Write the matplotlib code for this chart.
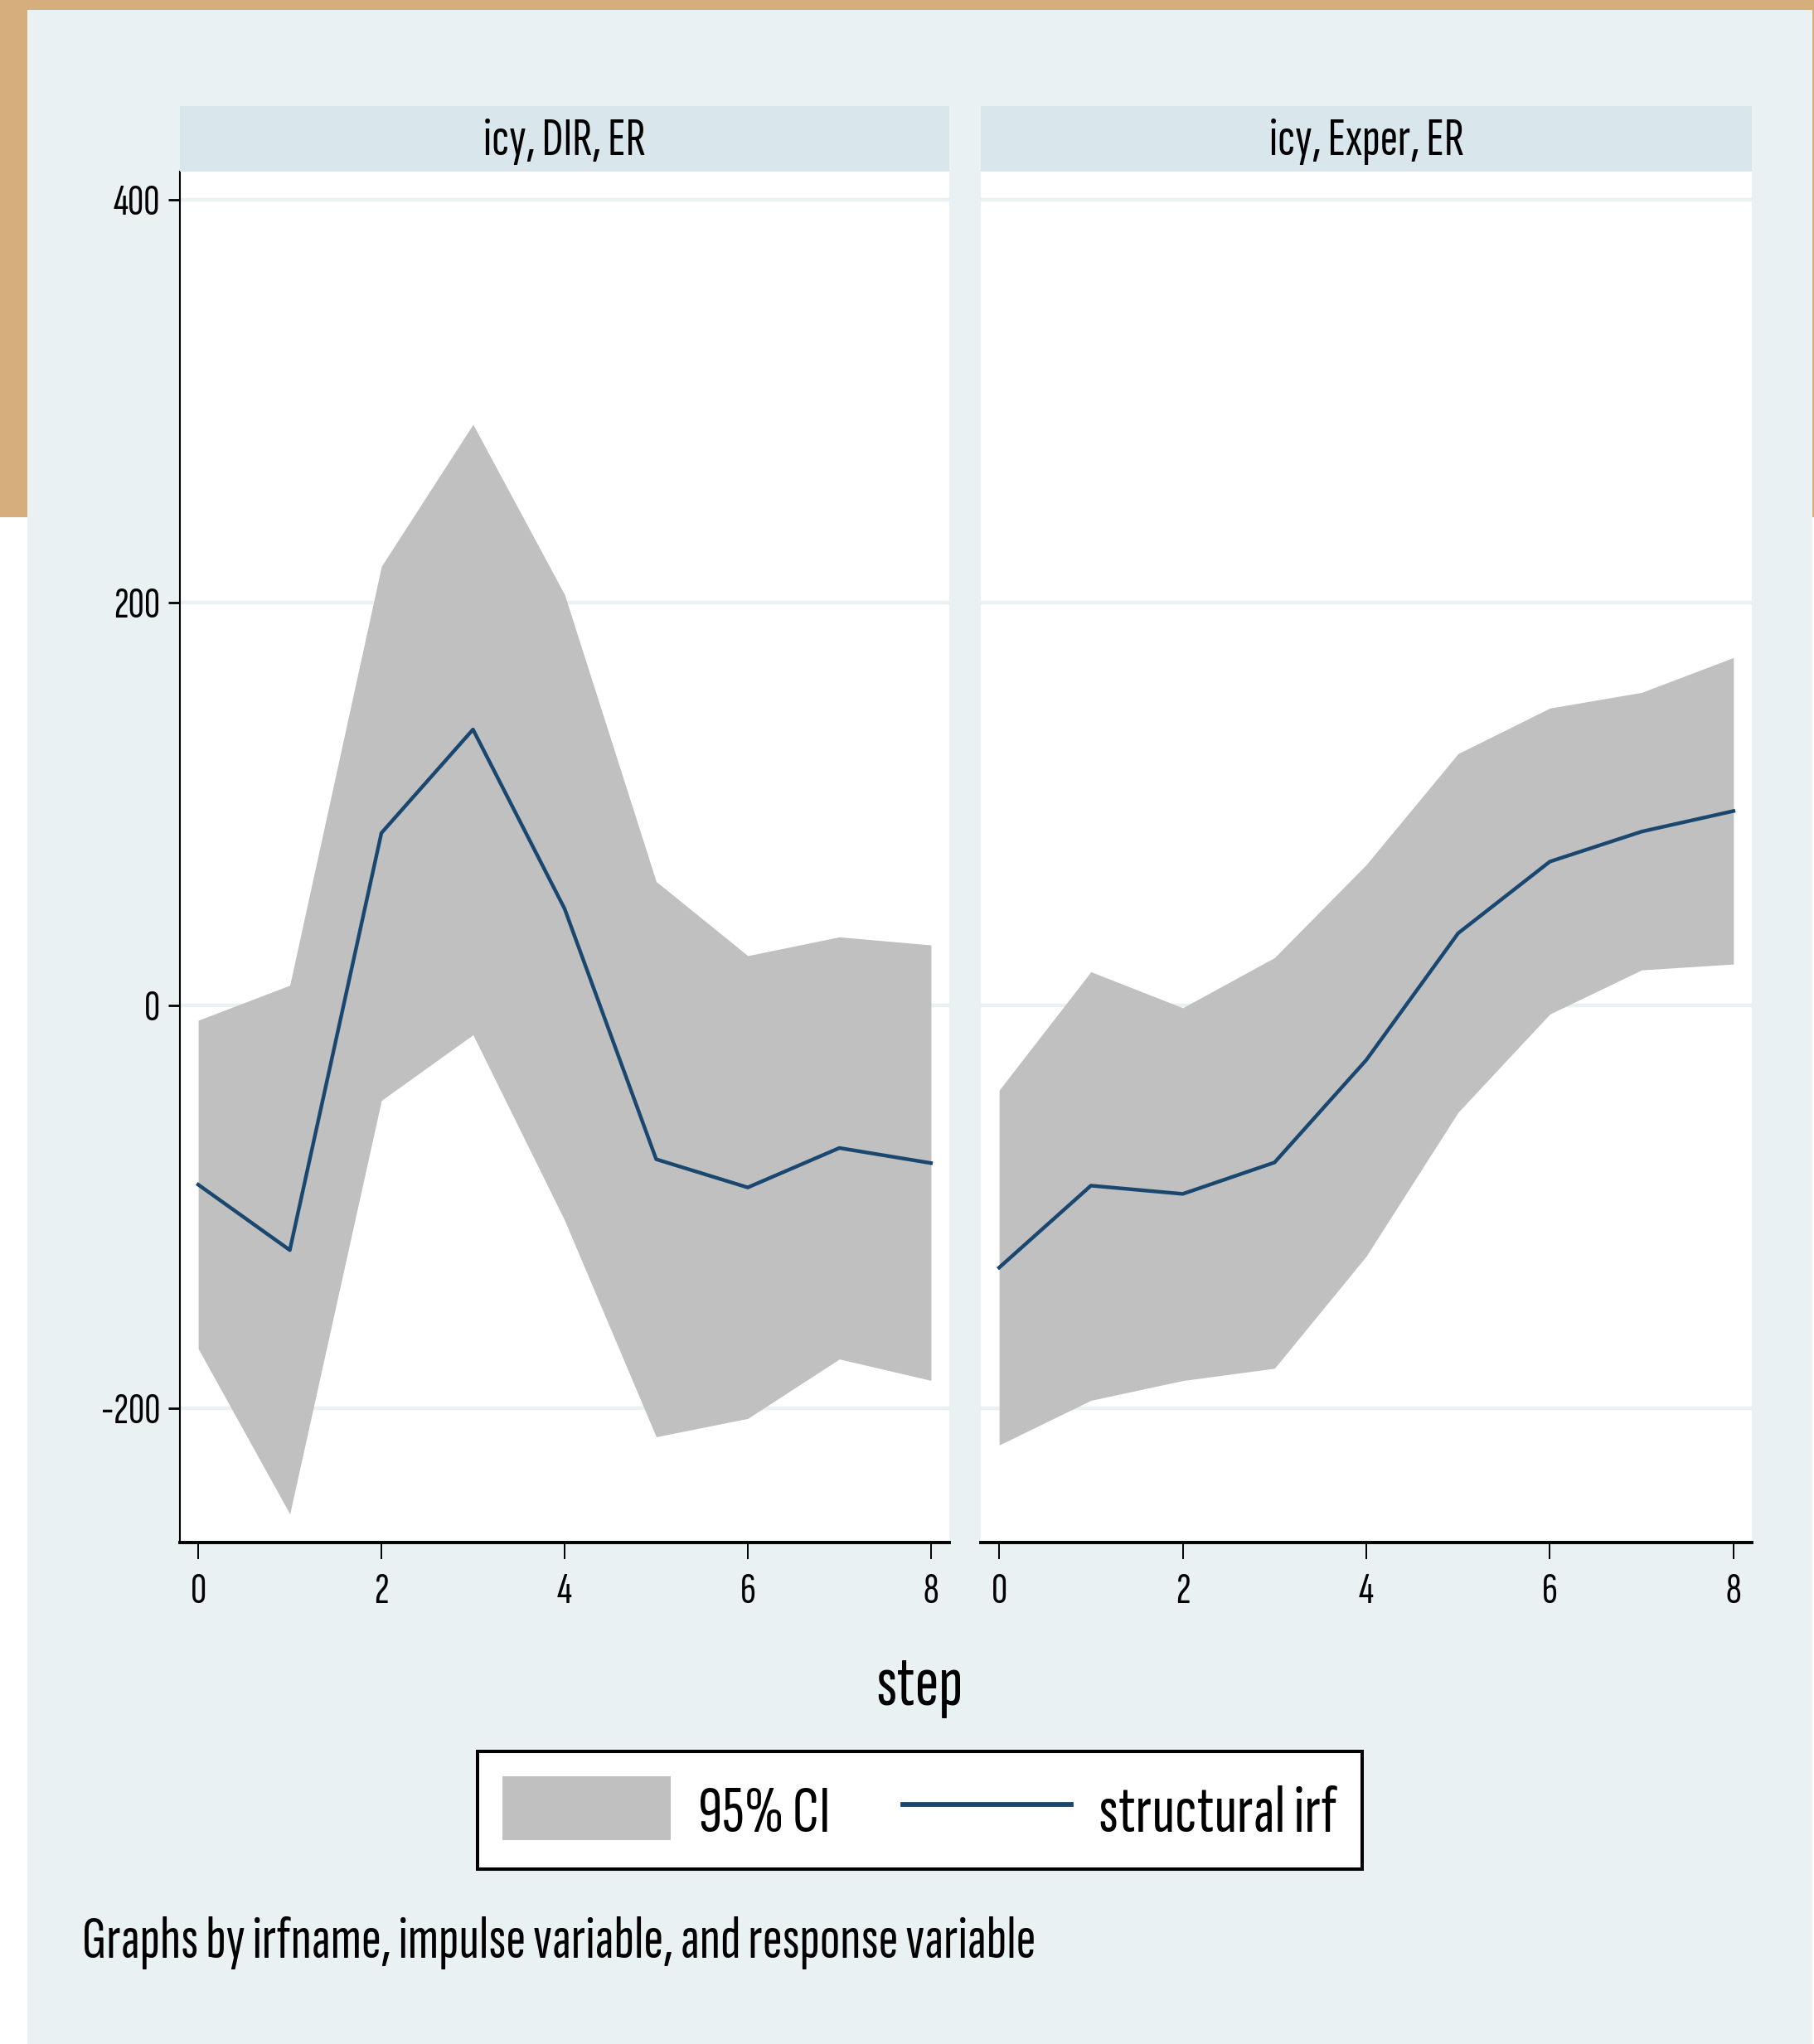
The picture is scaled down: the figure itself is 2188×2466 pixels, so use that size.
import matplotlib
matplotlib.use("Agg")
import matplotlib.pyplot as plt
from matplotlib import font_manager
from matplotlib.font_manager import FontProperties
from matplotlib.textpath import TextPath
from matplotlib.patches import Rectangle, Patch
from matplotlib.lines import Line2D

steps = [0, 1, 2, 3, 4, 5, 6, 7, 8]

# impulse icy -> DIR, response ER
dir_irf = [-89, -121.5, 85.6, 137, 48, -76.4, -90.4, -70.8, -78.3]
dir_upper = [-7.4, 10, 218, 288.5, 204, 61.5, 24.7, 34, 30]
dir_lower = [-170.4, -252.5, -47.2, -14.6, -106.7, -214.2, -205.1, -175.6, -186.2]

# impulse icy -> Exper, response ER
exper_irf = [-130.2, -89.5, -93.6, -78, -27.1, 35.8, 71.4, 86.3, 96.5]
exper_upper = [-42.1, 16.7, -1.2, 23.7, 69.9, 125, 147.6, 155.4, 172.7]
exper_lower = [-218.3, -196.1, -186.3, -180.2, -124.5, -53.1, -4.3, 17.6, 20.5]

panel_titles = ["icy, DIR, ER", "icy, Exper, ER"]
y_ticks = [-200, 0, 200, 400]
y_ticklabels = ["-200", "0", "200", "400"]
x_ticks = [0, 2, 4, 6, 8]
legend_labels = ["95% CI", "structural irf"]
x_title = "step"
note = "Graphs by irfname, impulse variable, and response variable"

W, H = 2188, 2466
TAN = "#d6ae7c"
BG = "#e9f1f3"
STRIP = "#d9e6eb"
CI_GRAY = "#c0c0c0"
NAVY = "#1a476f"

# the original text is a very condensed Helvetica-like face
names = {f.name for f in font_manager.fontManager.ttflist}
font = "Liberation Sans"
for cand in ["Sofia Sans Extra Condensed", "Fira Sans Extra Condensed", "Roboto Condensed"]:
    if cand in names:
        font = cand
        break
plt.rcParams["font.family"] = [font, "DejaVu Sans"]


def fit(s, width_px):
    # font size (pt) whose ink width is width_px at 100 dpi
    ext = TextPath((0, 0), s, size=100, prop=FontProperties(family=font)).get_extents()
    return 72 * width_px / ext.width


fs_tick = fit("400", 54)
fs_head = fit("icy, Exper, ER", 231)
fs_step = fit("step", 99)
fs_leg = fit("structural irf", 285)
fs_note = fit(note, 1146)


def fx(x):
    return x / W


def fy(y):
    return 1 - y / H


fig = plt.figure(figsize=(W / 100, H / 100), dpi=100, facecolor="white")

# frame around the graph region
for (x0, y0, x1, y1, c) in [(33, 12, 2186, 2466, BG), (0, 0, 2188, 12, TAN),
                            (0, 0, 33, 624, TAN), (2186, 0, 2188, 624, TAN)]:
    fig.patches.append(Rectangle((fx(x0), fy(y1)), (x1 - x0) / W, (y1 - y0) / H,
                                 transform=fig.transFigure, fc=c, ec="none", zorder=-10))

panels = [
    (217, 1145, dir_irf, dir_upper, dir_lower),
    (1183, 2113, exper_irf, exper_upper, exper_lower),
]
top, bottom, strip_top = 207, 1861, 128

for i, (x0, x1, irf, upper, lower) in enumerate(panels):
    ax = fig.add_axes([fx(x0), fy(bottom), (x1 - x0) / W, (bottom - top) / H])
    ax.set_facecolor("white")
    ax.set_axisbelow(True)
    ax.fill_between(steps, lower, upper, color=CI_GRAY, lw=0)
    ax.plot(steps, irf, color=NAVY, lw=3.2)
    ax.set_xlim(-0.2, 8.2)
    ax.set_ylim(-266.7, 414)
    ax.set_yticks(y_ticks)
    ax.grid(axis="y", color=BG, lw=3.2)
    ax.set_xticks(x_ticks)
    ax.set_xticklabels([str(t) for t in x_ticks])
    ax.tick_params(axis="x", length=14.4, width=1.4, pad=12, labelsize=fs_tick)
    for s in ["top", "right"]:
        ax.spines[s].set_visible(False)
    ax.spines["bottom"].set_linewidth(2.8)
    if i == 0:
        ax.set_yticklabels(y_ticklabels)
        ax.tick_params(axis="y", length=10, width=2.0, pad=7, labelsize=fs_tick)
        ax.spines["left"].set_linewidth(1.5)
    else:
        ax.spines["left"].set_visible(False)
        ax.tick_params(axis="y", left=False, labelleft=False)

    hx = fig.add_axes([fx(x0), fy(top), (x1 - x0) / W, (top - strip_top) / H])
    hx.set_facecolor(STRIP)
    hx.set_xticks([])
    hx.set_yticks([])
    for s in hx.spines.values():
        s.set_visible(False)
    hx.text(0.5, 0.45, panel_titles[i], ha="center", va="center",
            fontsize=fs_head, transform=hx.transAxes)

fig.text(fx(1109), fy(2057), x_title, ha="center", va="baseline", fontsize=fs_step)

px = fs_leg * 100 / 72
leg = fig.legend(
    handles=[Patch(fc=CI_GRAY, ec="none"), Line2D([], [], color=NAVY, lw=4.2)],
    labels=legend_labels, loc="center", bbox_to_anchor=(fx(1109.5), fy(2184)),
    ncol=2, frameon=True, fancybox=False, framealpha=1, edgecolor="black",
    facecolor="white", fontsize=fs_leg, handlelength=203 / px, handleheight=87 / px,
    handletextpad=33 / px, columnspacing=88 / px, borderpad=30 / px,
    borderaxespad=0,
)
leg.get_frame().set_linewidth(2.9)

fig.text(fx(99), fy(2362), note, ha="left", va="baseline", fontsize=fs_note)

fig.savefig("out.png", dpi=100, facecolor="white")
